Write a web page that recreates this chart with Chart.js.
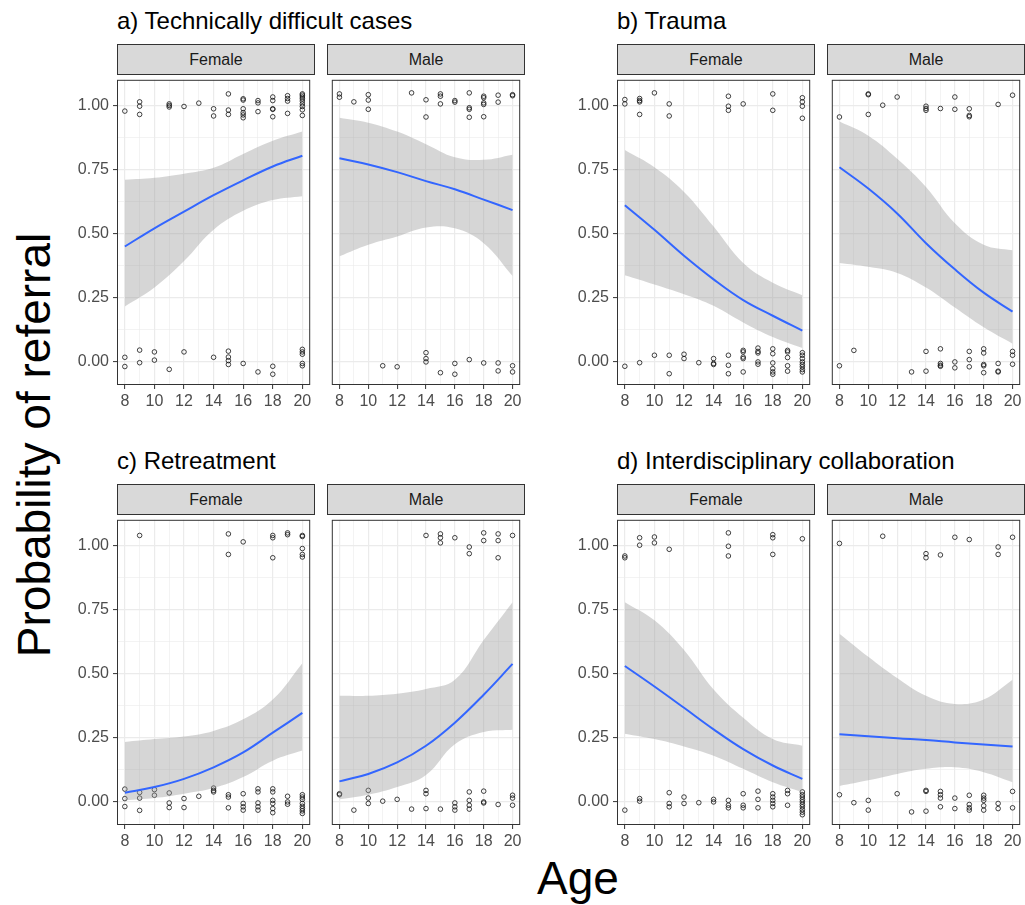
<!DOCTYPE html>
<html><head><meta charset="utf-8">
<script src="https://cdn.jsdelivr.net/npm/chart.js@4.4.0/dist/chart.umd.min.js"></script>
<style>
html,body{margin:0;padding:0;background:#fff;overflow:hidden;}
#wrap{position:relative;width:1025px;height:905px;font-family:"Liberation Sans",Arial,sans-serif;}
.title{position:absolute;font-size:24px;color:#000;white-space:nowrap;line-height:1;}
.strip{position:absolute;box-sizing:border-box;height:31px;width:198px;background:#d9d9d9;border:1px solid #333;font-size:16px;color:#1a1a1a;text-align:center;line-height:29px;}
.axt{position:absolute;font-size:46px;color:#000;white-space:nowrap;line-height:1;transform:translate(-50%,-50%);}
canvas{position:absolute;}
</style></head>
<body><div id="wrap"></div>
<script>
// ---------- data ----------
const ageGrid = [8,9,10,11,12,13,14,15,16,17,18,19,20];
const ageTicks = [8,10,12,14,16,18,20];
const probGrid = [0,0.125,0.25,0.375,0.5,0.625,0.75,0.875,1];
const probTicks = [0,0.25,0.5,0.75,1];
const probLabels = ['0.00','0.25','0.50','0.75','1.00'];
const panelTitles = ['a) Technically difficult cases','b) Trauma','c) Retreatment','d) Interdisciplinary collaboration'];
const sexes = ['Female','Male'];
const fitAge = [8,10,12,14,16,18,20];

const aF_fit = [0.450,0.521,0.586,0.650,0.708,0.762,0.804];
const aF_hi  = [0.710,0.718,0.734,0.757,0.811,0.862,0.898];
const aF_lo  = [0.216,0.290,0.393,0.515,0.589,0.631,0.646];
const aM_fit = [0.794,0.770,0.740,0.705,0.673,0.633,0.592];
const aM_hi  = [0.952,0.933,0.898,0.849,0.798,0.788,0.808];
const aM_lo  = [0.412,0.457,0.489,0.524,0.521,0.463,0.335];
const bF_fit = [0.611,0.515,0.414,0.322,0.241,0.180,0.122];
const bF_hi  = [0.826,0.759,0.663,0.528,0.386,0.309,0.260];
const bF_lo  = [0.338,0.302,0.264,0.219,0.154,0.097,0.054];
const bM_fit = [0.759,0.676,0.579,0.463,0.361,0.270,0.196];
const bM_hi  = [0.937,0.882,0.792,0.682,0.541,0.457,0.435];
const bM_lo  = [0.386,0.371,0.347,0.290,0.212,0.135,0.071];
const cF_fit = [0.036,0.058,0.090,0.135,0.193,0.270,0.347];
const cF_hi  = [0.234,0.245,0.255,0.277,0.322,0.399,0.541];
const cF_lo  = [0.006,0.015,0.032,0.054,0.097,0.161,0.200];
const cM_fit = [0.080,0.109,0.154,0.219,0.309,0.418,0.538];
const cM_hi  = [0.414,0.414,0.422,0.440,0.476,0.631,0.779];
const cM_lo  = [0.010,0.028,0.058,0.105,0.225,0.273,0.281];
const dF_fit = [0.530,0.450,0.367,0.283,0.206,0.142,0.090];
const dF_hi  = [0.779,0.708,0.592,0.438,0.328,0.245,0.219];
const dF_lo  = [0.266,0.245,0.216,0.180,0.129,0.077,0.039];
const dM_fit = [0.264,0.256,0.248,0.241,0.232,0.224,0.216];
const dM_hi  = [0.656,0.566,0.483,0.414,0.382,0.399,0.476];
const dM_lo  = [0.062,0.084,0.109,0.129,0.135,0.116,0.077];

const aF_pts = [[8,0.978],[9,1.014],[9,0.997],[9,0.965],[11,1.006],[11,1.0],[11,0.994],[12,0.996],[13,1.009],[14,0.987],[14,0.959],[15,1.045],[15,0.982],[15,0.965],[16,1.026],[16,1.021],[16,0.987],[16,0.972],[16,0.963],[16,0.952],[17,1.019],[17,1.01],[17,0.976],[18,1.033],[18,1.019],[18,0.987],[18,0.985],[18,0.956],[19,1.038],[19,1.027],[19,1.017],[19,0.969],[20,1.045],[20,1.04],[20,1.033],[20,1.026],[20,1.017],[20,1.006],[20,0.996],[20,0.983],[20,0.961],
 [8,0.018],[8,-0.018],[9,0.046],[9,-0.003],[10,0.039],[10,0.007],[11,-0.029],[12,0.039],[14,0.018],[15,0.042],[15,0.019],[15,0.005],[15,-0.01],[16,-0.006],[17,-0.039],[18,-0.017],[18,-0.048],[20,0.049],[20,0.039],[20,0.03],[20,-0.006],[20,-0.015]];
const aM_pts = [[8,1.045],[8,1.032],[9,1.014],[10,1.042],[10,1.021],[10,0.985],[13,1.049],[14,1.022],[14,0.955],[15,1.045],[15,1.036],[15,1.006],[16,1.019],[16,1.013],[17,1.049],[17,0.991],[17,0.985],[17,0.954],[18,1.036],[18,1.03],[18,1.01],[18,1.004],[18,0.956],[19,1.04],[19,1.013],[20,1.042],[20,1.038],
 [11,-0.015],[12,-0.019],[14,0.036],[14,0.013],[14,0.0],[15,-0.042],[16,-0.006],[16,-0.048],[17,0.009],[18,-0.004],[19,-0.004],[19,-0.035],[20,-0.015],[20,-0.039]];
const bF_pts = [[8,1.023],[8,1.006],[9,1.027],[9,1.019],[9,1.014],[9,0.965],[10,1.049],[11,1.006],[11,0.959],[15,1.036],[15,0.997],[15,0.981],[16,1.006],[18,1.045],[18,0.981],[20,1.03],[20,1.014],[20,0.997],[20,0.95],
 [8,-0.017],[9,-0.003],[10,0.026],[11,0.026],[11,-0.046],[12,0.03],[12,0.013],[13,-0.003],[14,0.013],[14,-0.006],[14,-0.01],[15,0.026],[15,-0.013],[15,-0.046],[16,0.045],[16,0.039],[16,0.019],[16,0.013],[16,-0.039],[17,0.054],[17,0.041],[17,0.035],[17,0.0],[17,-0.009],[18,0.051],[18,0.032],[18,-0.004],[18,-0.026],[18,-0.039],[18,-0.048],[19,0.045],[19,0.039],[19,0.017],[19,-0.015],[19,-0.036],[20,0.036],[20,0.026],[20,0.013],[20,0.0],[20,-0.01],[20,-0.019],[20,-0.03],[20,-0.039]];
const bM_pts = [[8,0.955],[10,1.045],[10,1.042],[10,0.965],[11,1.001],[12,1.033],[14,0.997],[14,0.988],[14,0.981],[15,0.988],[16,1.033],[16,0.985],[17,0.987],[17,0.961],[17,0.956],[19,1.004],[20,1.04],
 [8,-0.015],[9,0.045],[13,-0.039],[14,0.041],[14,-0.036],[15,0.051],[15,-0.006],[15,-0.013],[15,-0.017],[16,0.0],[16,-0.023],[17,0.041],[17,0.009],[17,-0.019],[18,0.051],[18,0.035],[18,-0.01],[18,-0.015],[18,-0.042],[19,-0.006],[19,-0.036],[19,-0.039],[20,0.041],[20,0.026],[20,-0.009]];
const cF_pts = [[9,1.039],[15,1.045],[15,0.965],[16,1.014],[18,1.039],[18,1.03],[18,0.952],[19,1.049],[19,1.042],[20,1.039],[20,1.035],[20,0.988],[20,0.965],[20,0.955],
 [8,0.05],[8,0.013],[8,-0.018],[9,0.037],[9,0.015],[9,-0.033],[10,0.048],[10,0.026],[11,0.035],[11,-0.004],[11,-0.022],[12,0.013],[12,-0.022],[13,0.022],[14,0.054],[14,0.045],[14,0.039],[15,0.028],[15,0.019],[15,-0.023],[16,0.032],[16,-0.006],[16,-0.019],[16,-0.032],[17,0.051],[17,0.039],[17,-0.004],[17,-0.019],[17,-0.032],[18,0.051],[18,0.039],[18,0.006],[18,-0.006],[18,-0.026],[18,-0.042],[19,0.022],[19,0.0],[19,-0.009],[20,0.028],[20,0.019],[20,0.01],[20,-0.006],[20,-0.017],[20,-0.026],[20,-0.035],[20,-0.045]];
const cM_pts = [[14,1.039],[15,1.045],[15,1.03],[15,1.01],[16,1.03],[17,0.994],[17,0.968],[18,1.049],[18,1.019],[19,1.045],[19,1.019],[19,0.952],[20,1.039],
 [8,0.032],[8,0.028],[9,-0.032],[10,0.045],[10,0.015],[10,-0.006],[11,0.003],[12,0.01],[13,-0.028],[14,0.045],[14,0.032],[14,-0.026],[15,-0.028],[16,-0.004],[16,-0.019],[16,-0.032],[17,0.039],[17,0.006],[17,-0.013],[17,-0.028],[18,0.042],[18,0.0],[18,-0.004],[19,-0.01],[20,0.026],[20,0.015],[20,-0.013]];
const dF_pts = [[8,0.959],[8,0.952],[9,1.03],[9,1.001],[10,1.033],[10,1.01],[11,0.985],[15,1.049],[15,0.997],[15,0.959],[18,1.042],[18,1.03],[18,0.965],[20,1.026],
 [8,-0.032],[9,0.013],[9,0.003],[11,0.036],[11,-0.006],[11,-0.019],[12,0.019],[12,-0.006],[13,-0.003],[14,0.01],[14,0.0],[15,0.006],[15,-0.013],[15,-0.023],[16,0.032],[16,-0.013],[16,-0.023],[17,0.042],[17,0.01],[17,-0.023],[18,0.032],[18,0.019],[18,0.006],[18,-0.006],[18,-0.019],[19,0.045],[19,0.032],[19,-0.013],[20,0.039],[20,0.028],[20,0.019],[20,0.009],[20,0.0],[20,-0.01],[20,-0.019],[20,-0.03],[20,-0.04],[20,-0.05]];
const dM_pts = [[8,1.008],[11,1.036],[14,0.968],[14,0.952],[15,0.963],[16,1.032],[17,1.023],[19,0.994],[19,0.965],[20,1.032],
 [8,0.028],[9,-0.003],[10,0.006],[10,-0.032],[12,0.032],[13,-0.039],[14,0.045],[14,0.041],[14,-0.036],[15,0.041],[15,0.028],[15,0.015],[15,-0.019],[16,0.015],[16,-0.026],[17,0.026],[17,-0.01],[17,-0.023],[17,-0.032],[18,0.026],[18,0.015],[18,0.006],[18,-0.015],[18,-0.032],[19,-0.006],[19,-0.026],[20,0.041],[20,-0.023]];

// ---------- layout ----------
const colLeft = [117, 327, 617, 827];
const rowTop = [75, 515];
const PW = 198, PH = 310, YW = 62, XH = 30;
const wrap = document.getElementById('wrap');

const panels = [
  {r:0,c:0,pts:aF_pts,fit:aF_fit,hi:aF_hi,lo:aF_lo},
  {r:0,c:1,pts:aM_pts,fit:aM_fit,hi:aM_hi,lo:aM_lo},
  {r:0,c:2,pts:bF_pts,fit:bF_fit,hi:bF_hi,lo:bF_lo},
  {r:0,c:3,pts:bM_pts,fit:bM_fit,hi:bM_hi,lo:bM_lo},
  {r:1,c:0,pts:cF_pts,fit:cF_fit,hi:cF_hi,lo:cF_lo},
  {r:1,c:1,pts:cM_pts,fit:cM_fit,hi:cM_hi,lo:cM_lo},
  {r:1,c:2,pts:dF_pts,fit:dF_fit,hi:dF_hi,lo:dF_lo},
  {r:1,c:3,pts:dM_pts,fit:dM_fit,hi:dM_hi,lo:dM_lo}
];

function addDiv(cls, text, css){
  const d = document.createElement('div');
  d.className = cls; d.textContent = text;
  Object.assign(d.style, css); wrap.appendChild(d); return d;
}

panelTitles.forEach((t,i)=>{
  const r = Math.floor(i/2), c = (i%2)*2;
  addDiv('title', t, {left: colLeft[c]+'px', top: (rowTop[r]-66)+'px'});
});
addDiv('axt','Probability of referral',{left:'34px',top:'445px',transform:'translate(-50%,-50%) rotate(-90deg)'});
addDiv('axt','Age',{left:'578px',top:'878px'});

const borderPlugin = {
  id:'pborder',
  afterDraw(chart){
    const {ctx, chartArea:a} = chart;
    ctx.save(); ctx.strokeStyle='#333'; ctx.lineWidth=1;
    ctx.strokeRect(a.left+0.5, a.top+0.5, a.right-a.left-1, a.bottom-a.top-1);
    ctx.restore();
  }
};

const isMajorY = v => Math.abs(v*4 - Math.round(v*4)) < 1e-6;
const tickFont = {family:'"Liberation Sans", Arial, sans-serif', size:16};

panels.forEach(p=>{
  const leftCol = (p.c % 2 === 0);
  const plotL = colLeft[p.c], plotT = rowTop[p.r];
  addDiv('strip', sexes[p.c%2], {left: plotL+'px', top: (plotT-31)+'px'});
  const cv = document.createElement('canvas');
  const yw = leftCol ? YW : 0;
  const w = yw + PW, h = PH + XH;
  cv.width = w; cv.height = h;
  cv.style.left = (plotL - yw)+'px'; cv.style.top = plotT+'px';
  cv.style.width = w+'px'; cv.style.height = h+'px';
  wrap.appendChild(cv);
  const xy = (xs, ys) => xs.map((x,i)=>({x, y: ys[i]}));
  new Chart(cv.getContext('2d'), {
    type:'line',
    data:{datasets:[
      {data: xy(fitAge,p.fit), borderColor:'#3366FF', borderWidth:2, pointRadius:0, fill:false, tension:0.4, order:0},
      {data: xy(fitAge,p.hi), borderColor:'rgba(0,0,0,0)', borderWidth:0, pointRadius:0, fill:'+1', backgroundColor:'rgba(153,153,153,0.4)', tension:0.4, order:1},
      {data: xy(fitAge,p.lo), borderColor:'rgba(0,0,0,0)', borderWidth:0, pointRadius:0, fill:false, tension:0.4, order:2},
      {data: p.pts.map(q=>({x:q[0],y:q[1]})), showLine:false, pointRadius:2.3, pointBorderWidth:0.8, pointBorderColor:'#111', pointBackgroundColor:'rgba(0,0,0,0)', order:3}
    ]},
    options:{
      responsive:false, animation:false, devicePixelRatio:1,
      layout:{padding:0},
      plugins:{legend:{display:false}, tooltip:{enabled:false}},
      scales:{
        x:{type:'linear', min:7.47, max:20.53,
          afterBuildTicks: s => { s.ticks = ageGrid.map(v=>({value:v})); },
          afterFit: s => { s.height = XH; s.paddingLeft = 0; s.paddingRight = 0; },
          ticks:{autoSkip:false, maxRotation:0, minRotation:0, color:'#4d4d4d', font:tickFont, padding:3,
            callback: v => ageTicks.includes(v) ? String(v) : ''},
          grid:{color:'#ebebeb', lineWidth: ctx => (ctx.tick && ageTicks.includes(ctx.tick.value)) ? 1.2 : 0.6,
            drawTicks:true, tickLength:4, tickWidth:1,
            tickColor: ctx => (ctx.tick && ageTicks.includes(ctx.tick.value)) ? '#333' : 'rgba(0,0,0,0)'},
          border:{display:false}
        },
        y:{type:'linear', min:-0.09, max:1.10,
          afterBuildTicks: s => { s.ticks = probGrid.map(v=>({value:v})); },
          afterFit: s => { s.width = yw; s.paddingTop = 0; s.paddingBottom = 0; },
          ticks:{display:leftCol, autoSkip:false, color:'#4d4d4d', font:tickFont, padding:4,
            callback: v => { const i = probTicks.findIndex(t=>Math.abs(t-v)<1e-6); return i>=0 ? probLabels[i] : ''; }},
          grid:{color:'#ebebeb', lineWidth: ctx => (ctx.tick && isMajorY(ctx.tick.value)) ? 1.2 : 0.6,
            drawTicks:leftCol, tickLength:4, tickWidth:1,
            tickColor: ctx => (ctx.tick && isMajorY(ctx.tick.value)) ? '#333' : 'rgba(0,0,0,0)'},
          border:{display:false}
        }
      }
    },
    plugins:[borderPlugin]
  });
});
</script>
</body></html>
